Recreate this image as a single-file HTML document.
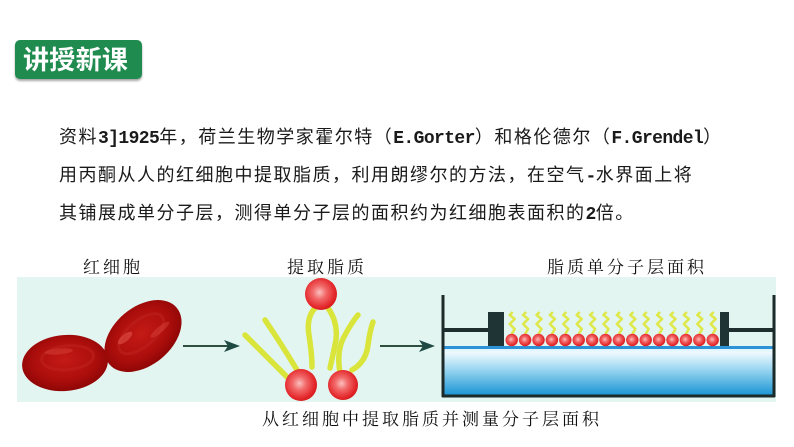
<!DOCTYPE html>
<html><head><meta charset="utf-8">
<style>
html,body{margin:0;padding:0;background:#fff;}
body{width:794px;height:447px;position:relative;overflow:hidden;}
.badge{position:absolute;left:15px;top:40px;width:127px;height:39px;background:#1f8b4f;border-radius:5px;box-shadow:0 2px 2px rgba(0,0,0,0.35);}
.badge span{position:absolute;left:8px;top:0;height:39px;line-height:40px;color:#fff;font:bold 26px "Liberation Sans","Noto Sans CJK SC",sans-serif;letter-spacing:0.3px;white-space:nowrap;}
.para{position:absolute;left:59px;top:119px;font-family:"Liberation Sans","Noto Sans CJK SC",sans-serif;font-size:18px;line-height:36px;letter-spacing:1.5px;color:#1a1a1a;white-space:nowrap;font-weight:400;}
.m{font-family:"Liberation Mono",monospace;font-size:18px;letter-spacing:-0.6px;font-weight:bold;}
.lab{position:absolute;font-family:"Liberation Serif","Noto Serif CJK SC",serif;font-size:17px;line-height:17px;letter-spacing:3px;color:#111;white-space:nowrap;}
svg{position:absolute;left:0;top:0;}
</style></head><body>
<div class="badge"><span>讲授新课</span></div>
<div class="para">资料<span class="m">3]1925</span>年，荷兰生物学家霍尔特（<span class="m">E.Gorter</span>）和格伦德尔（<span class="m">F.Grendel</span>）<br>用丙酮从人的红细胞中提取脂质，利用朗缪尔的方法，在空气<span class="m">-</span>水界面上将<br>其铺展成单分子层，测得单分子层的面积约为红细胞表面积的<span class="m">2</span>倍。</div>

<svg width="794" height="447" viewBox="0 0 794 447" xmlns="http://www.w3.org/2000/svg">
<defs>
<radialGradient id="cellL" cx="0.5" cy="0.45" r="0.6">
<stop offset="0" stop-color="#c41a16"/><stop offset="0.6" stop-color="#ac0e0c"/><stop offset="1" stop-color="#860404"/>
</radialGradient>
<radialGradient id="ball" cx="0.45" cy="0.45" r="0.6">
<stop offset="0" stop-color="#fbc0c0"/><stop offset="0.35" stop-color="#f26a6a"/><stop offset="0.8" stop-color="#e3262a"/><stop offset="1" stop-color="#d01818"/>
</radialGradient>
<linearGradient id="water" x1="0" y1="0" x2="0" y2="1">
<stop offset="0" stop-color="#d6f0fb"/><stop offset="0.12" stop-color="#eef9fe"/><stop offset="0.45" stop-color="#9fd8f2"/><stop offset="1" stop-color="#1b95d4"/>
</linearGradient>
</defs>
<rect x="17" y="277" width="759" height="125" fill="#e3f5f1"/>

<!-- red blood cells -->
<g transform="rotate(-5 65 363)">
<ellipse cx="65" cy="363" rx="43" ry="28" fill="url(#cellL)"/>
<ellipse cx="68" cy="358" rx="26" ry="12" fill="none" stroke="#c02420" stroke-width="3" opacity="0.5"/>
<ellipse cx="60" cy="351" rx="14" ry="3" fill="#d84038" opacity="0.5"/>
</g>
<g transform="rotate(-40 143 336)">
<ellipse cx="143" cy="336" rx="44" ry="29" fill="url(#cellL)"/>
<ellipse cx="143" cy="333" rx="27" ry="13" fill="none" stroke="#c02420" stroke-width="3" opacity="0.5"/>
<ellipse cx="128" cy="326" rx="9" ry="3.5" fill="#e05048" opacity="0.6"/>
<ellipse cx="160" cy="342" rx="12" ry="3" fill="#d84038" opacity="0.5"/>
</g>

<!-- arrows -->
<line x1="183" y1="346" x2="230" y2="346" stroke="#2d4f3e" stroke-width="2"/>
<polygon points="224,340 240,346 224,352 228,346" fill="#1f4a44"/>
<line x1="380" y1="346" x2="424" y2="346" stroke="#2d4f3e" stroke-width="2"/>
<polygon points="419,340 435,346 419,352 423,346" fill="#1f4a44"/>

<!-- lipids -->
<g fill="none" stroke="#d9e53a" stroke-width="5.5" stroke-linecap="round">
<path d="M287,377 Q265,355 245,335"/>
<path d="M297,370 Q282,345 265,320"/>
<path d="M315,308 Q306,318 309,335 Q312,355 312,367"/>
<path d="M328,308 Q338,322 336,340 Q333,355 330,368"/>
<path d="M340,373 Q336,350 345,335 Q352,322 358,315"/>
<path d="M352,370 Q366,362 368,345 Q370,330 373,322"/>
</g>
<circle cx="321" cy="294" r="16" fill="url(#ball)"/>
<circle cx="301" cy="385" r="16" fill="url(#ball)"/>
<circle cx="343" cy="385" r="15" fill="url(#ball)"/>

<!-- trough -->
<rect x="444" y="347" width="329" height="48" fill="url(#water)"/>
<rect x="444" y="346" width="329" height="3" fill="#2d93d8"/>
<line x1="443" y1="295" x2="443" y2="397" stroke="#1c2a2a" stroke-width="3"/>
<line x1="774" y1="295" x2="774" y2="397" stroke="#1c2a2a" stroke-width="3"/>
<line x1="442" y1="396" x2="775" y2="396" stroke="#1c2a2a" stroke-width="3"/>
<rect x="444" y="328" width="44" height="4" fill="#1e2e2e"/>
<rect x="729" y="328" width="44" height="4" fill="#1e2e2e"/>
<rect x="488" y="312" width="16" height="34" fill="#1f3535"/>
<rect x="720" y="312" width="9" height="34" fill="#1f3535"/>

<g fill="none" stroke="#dfe84a" stroke-width="2.6" stroke-linejoin="round">
<polyline points="511.7,334 514.7,329 509.7,324 514.7,319 509.7,315 512.7,312"/>
<polyline points="525.1,334 528.1,329 523.1,324 528.1,319 523.1,315 526.1,312"/>
<polyline points="538.5,334 541.5,329 536.5,324 541.5,319 536.5,315 539.5,312"/>
<polyline points="551.9,334 554.9,329 549.9,324 554.9,319 549.9,315 552.9,312"/>
<polyline points="565.3,334 568.3,329 563.3,324 568.3,319 563.3,315 566.3,312"/>
<polyline points="578.7,334 581.7,329 576.7,324 581.7,319 576.7,315 579.7,312"/>
<polyline points="592.1,334 595.1,329 590.1,324 595.1,319 590.1,315 593.1,312"/>
<polyline points="605.5,334 608.5,329 603.5,324 608.5,319 603.5,315 606.5,312"/>
<polyline points="618.9,334 621.9,329 616.9,324 621.9,319 616.9,315 619.9,312"/>
<polyline points="632.3,334 635.3,329 630.3,324 635.3,319 630.3,315 633.3,312"/>
<polyline points="645.7,334 648.7,329 643.7,324 648.7,319 643.7,315 646.7,312"/>
<polyline points="659.1,334 662.1,329 657.1,324 662.1,319 657.1,315 660.1,312"/>
<polyline points="672.5,334 675.5,329 670.5,324 675.5,319 670.5,315 673.5,312"/>
<polyline points="685.9,334 688.9,329 683.9,324 688.9,319 683.9,315 686.9,312"/>
<polyline points="699.3,334 702.3,329 697.3,324 702.3,319 697.3,315 700.3,312"/>
<polyline points="712.7,334 715.7,329 710.7,324 715.7,319 710.7,315 713.7,312"/>
</g>
<g>
<circle cx="511.7" cy="340" r="6.2" fill="url(#ball)"/>
<circle cx="525.1" cy="340" r="6.2" fill="url(#ball)"/>
<circle cx="538.5" cy="340" r="6.2" fill="url(#ball)"/>
<circle cx="551.9" cy="340" r="6.2" fill="url(#ball)"/>
<circle cx="565.3" cy="340" r="6.2" fill="url(#ball)"/>
<circle cx="578.7" cy="340" r="6.2" fill="url(#ball)"/>
<circle cx="592.1" cy="340" r="6.2" fill="url(#ball)"/>
<circle cx="605.5" cy="340" r="6.2" fill="url(#ball)"/>
<circle cx="618.9" cy="340" r="6.2" fill="url(#ball)"/>
<circle cx="632.3" cy="340" r="6.2" fill="url(#ball)"/>
<circle cx="645.7" cy="340" r="6.2" fill="url(#ball)"/>
<circle cx="659.1" cy="340" r="6.2" fill="url(#ball)"/>
<circle cx="672.5" cy="340" r="6.2" fill="url(#ball)"/>
<circle cx="685.9" cy="340" r="6.2" fill="url(#ball)"/>
<circle cx="699.3" cy="340" r="6.2" fill="url(#ball)"/>
<circle cx="712.7" cy="340" r="6.2" fill="url(#ball)"/>
</g>
</svg>

<div class="lab" style="left:83px;top:259px;">红细胞</div>
<div class="lab" style="left:287px;top:259px;">提取脂质</div>
<div class="lab" style="left:547px;top:259px;">脂质单分子层面积</div>
<div class="lab" style="left:262px;top:411px;">从红细胞中提取脂质并测量分子层面积</div>
</body></html>
